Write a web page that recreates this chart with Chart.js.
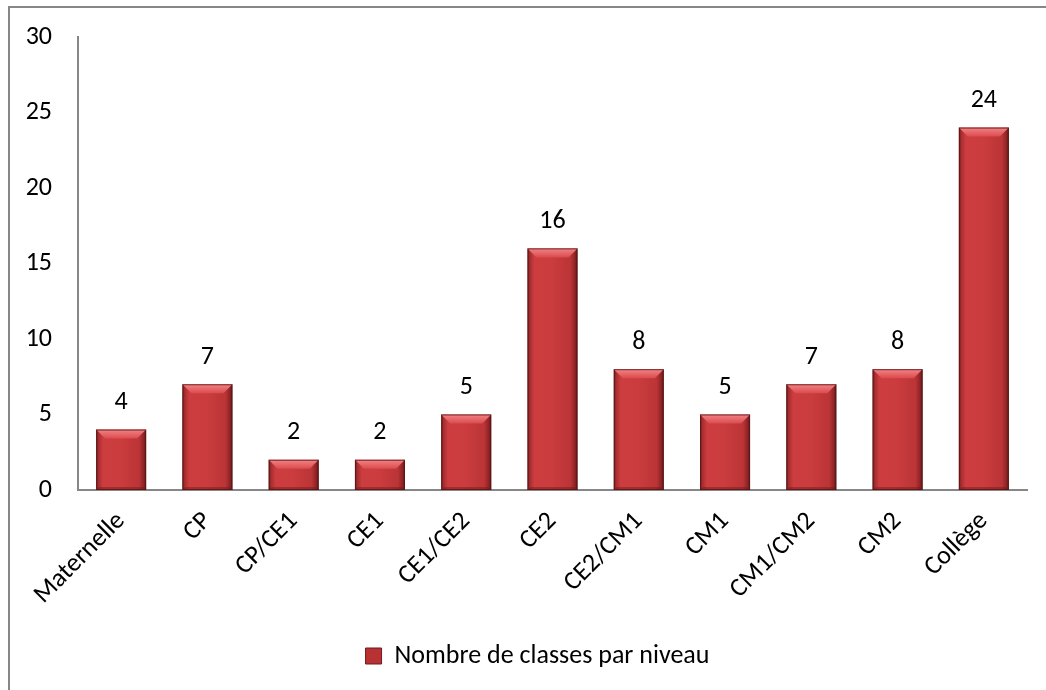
<!DOCTYPE html>
<html>
<head>
<meta charset="utf-8">
<script src="https://cdn.jsdelivr.net/npm/chart.js@4/dist/chart.umd.min.js"></script>
<style>
  html, body { margin: 0; padding: 0; background: #fff; }
  #wrap { position: absolute; left: 0; top: 0; width: 1046px; height: 690px; }
  #frame { position: absolute; left: 8px; top: 6px; width: 1100px; height: 800px;
           border-left: 2px solid #878787; border-top: 2px solid #878787; box-sizing: border-box; }
  canvas { position: absolute; left: 0; top: 0; }
</style>
</head>
<body>
<div id="wrap">
  <div id="frame"></div>
  <canvas id="c" width="1046" height="690"></canvas>
</div>
<script>
const categories = ["Maternelle", "CP", "CP/CE1", "CE1", "CE1/CE2", "CE2", "CE2/CM1", "CM1", "CM1/CM2", "CM2", "Collège"];
const classCounts = [4, 7, 2, 2, 5, 16, 8, 5, 7, 8, 24];
const seriesName = "Nombre de classes par niveau";
const yTicks = [0, 5, 10, 15, 20, 25, 30];

const FONT = "Carlito, Calibri, Lato, 'Open Sans', sans-serif";
const FSIZE = 26;
const BAR_FRACTION = 0.58;

function barFill(ctx) {
  const chart = ctx.chart;
  const xs = chart.scales && chart.scales.x;
  if (ctx.dataIndex === undefined || !xs || !chart.chartArea) return '#c0393b';
  const cx = xs.getPixelForValue(ctx.dataIndex);
  const half = (xs.width / categories.length) * BAR_FRACTION / 2;
  const g = chart.ctx.createLinearGradient(cx - half, 0, cx + half, 0);
  g.addColorStop(0.00, '#6e1a1b');
  g.addColorStop(0.05, '#a82e30');
  g.addColorStop(0.14, '#cd3d40');
  g.addColorStop(0.50, '#ca3c3e');
  g.addColorStop(0.86, '#bb3436');
  g.addColorStop(0.95, '#8e2426');
  g.addColorStop(1.00, '#5e1516');
  return g;
}

const bevelPlugin = {
  id: 'bevel',
  afterDatasetsDraw(chart) {
    const meta = chart.getDatasetMeta(0);
    const c = chart.ctx;
    c.save();
    meta.data.forEach((bar) => {
      const w = bar.width, l = bar.x - w / 2, r = bar.x + w / 2, t = bar.y, b = bar.base;
      const d = Math.min(9, (b - t) / 2);
      const g = c.createLinearGradient(0, t, 0, t + d);
      g.addColorStop(0, '#f28486');
      g.addColorStop(1, '#db4b4d');
      c.fillStyle = g;
      c.beginPath();
      c.moveTo(l, t); c.lineTo(r, t); c.lineTo(r - d, t + d); c.lineTo(l + d, t + d); c.closePath();
      c.fill();
      c.fillStyle = 'rgba(110,25,26,0.45)';
      c.beginPath();
      c.moveTo(l, b); c.lineTo(r, b); c.lineTo(r - 3, b - 3); c.lineTo(l + 3, b - 3); c.closePath();
      c.fill();
      c.strokeStyle = 'rgba(90,20,20,0.8)';
      c.lineWidth = 1;
      c.strokeRect(l + 0.5, t + 0.5, w - 1, b - t - 1);
    });
    c.restore();
  }
};

const valueLabelPlugin = {
  id: 'valueLabels',
  afterDatasetsDraw(chart) {
    const meta = chart.getDatasetMeta(0);
    const c = chart.ctx;
    c.save();
    c.font = FSIZE + "px " + FONT;
    c.fillStyle = '#000';
    c.textAlign = 'center';
    c.textBaseline = 'middle';
    meta.data.forEach((bar, i) => {
      c.fillText(String(chart.data.datasets[0].data[i]), bar.x, bar.y - 27);
    });
    c.restore();
  }
};

const legendShift = {
  id: 'legendShift',
  afterLayout(chart) {
    if (chart.legend) { chart.legend.left += 15; chart.legend.right += 15; }
  }
};

new Chart(document.getElementById('c'), {
  type: 'bar',
  data: {
    labels: categories,
    datasets: [{
      label: seriesName,
      data: classCounts,
      backgroundColor: barFill,
      borderWidth: 0,
      barPercentage: BAR_FRACTION,
      categoryPercentage: 1.0
    }]
  },
  options: {
    responsive: false,
    animation: false,
    layout: { padding: { left: 18, right: 19, top: 37, bottom: 11 } },
    plugins: {
      tooltip: { enabled: false },
      legend: {
        position: 'bottom',
        labels: {
          font: { family: FONT, size: FSIZE },
          color: '#000',
          boxWidth: 16,
          boxHeight: 16,
          padding: 17,
          generateLabels: () => [{ text: seriesName, fillStyle: '#b83234', strokeStyle: '#6e1c1c', lineWidth: 1, datasetIndex: 0 }]
        }
      }
    },
    scales: {
      x: {
        grid: { display: false },
        border: { display: true, color: '#878787', width: 2 },
        ticks: { font: { family: FONT, size: FSIZE }, color: '#000', maxRotation: 45, minRotation: 45, padding: 8, autoSkip: false },
        afterFit: (s) => { s.height = 136; }
      },
      y: {
        min: 0, max: 30,
        grid: { display: false },
        border: { display: true, color: '#878787', width: 2 },
        afterBuildTicks: (s) => { s.ticks = yTicks.map(v => ({ value: v })); },
        ticks: { font: { family: FONT, size: FSIZE }, color: '#000', padding: 18 },
        afterFit: (s) => { s.width = 60; }
      }
    }
  },
  plugins: [bevelPlugin, valueLabelPlugin, legendShift]
});
</script>
</body>
</html>
